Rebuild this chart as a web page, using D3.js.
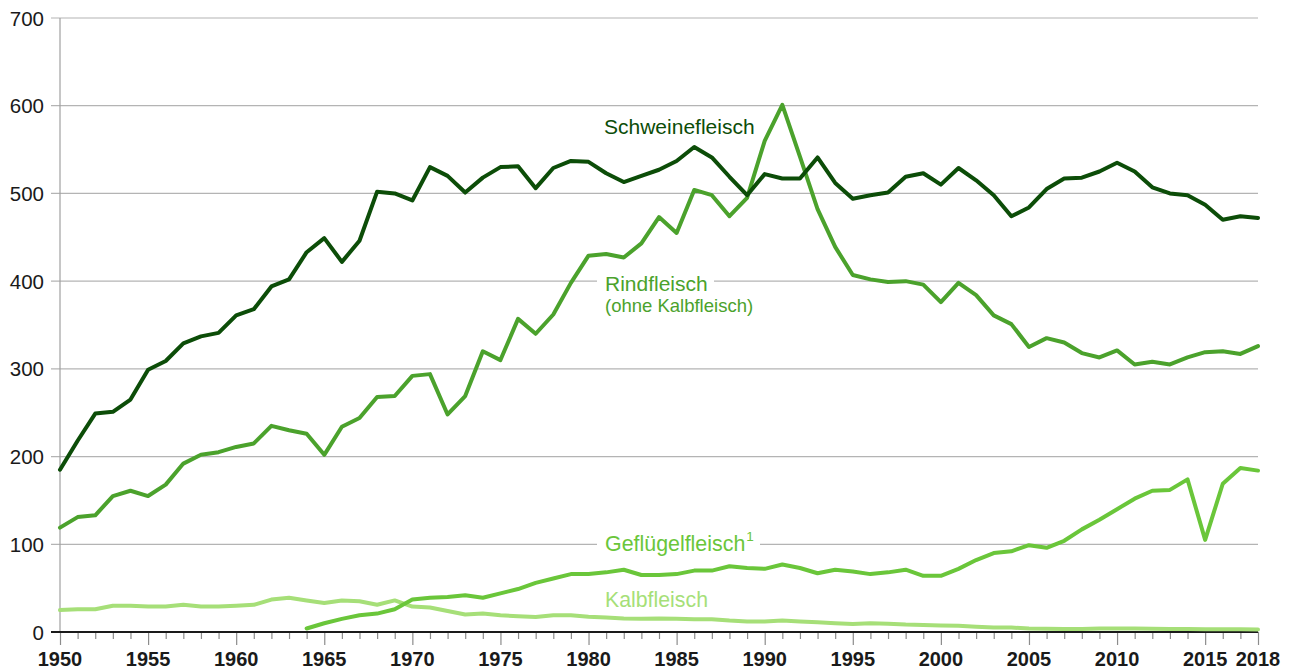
<!DOCTYPE html>
<html>
<head>
<meta charset="utf-8">
<script src="https://cdn.jsdelivr.net/npm/d3@7/dist/d3.min.js"></script>
<style>
  html, body { margin: 0; padding: 0; background: #fff; }
  svg { display: block; font-family: "Liberation Sans", Arial, Helvetica, sans-serif; }
</style>
</head>
<body>
<svg id="chart" width="1307" height="669"></svg>
<script>
// ---- data (1000 t) ----
const years = d3.range(1950, 2019);

const schwein = [
  185, 218, 249, 251, 265, 299, 309, 329, 337, 341,
  361, 368, 394, 402, 433, 449, 422, 446, 502, 500,
  492, 530, 520, 501, 518, 530, 531, 506, 529, 537,
  536, 523, 513, 520, 527, 537, 553, 541, 519, 498,
  522, 517, 517, 541, 512, 494, 498, 501, 519, 523,
  510, 529, 515, 498, 474, 484, 505, 517, 518, 525,
  535, 525, 507, 500, 498, 487, 470, 474, 472
];

const rind = [
  119, 131, 133, 155, 161, 155, 168, 192, 202, 205,
  211, 215, 235, 230, 226, 202, 234, 244, 268, 269,
  292, 294, 248, 269, 320, 310, 357, 340, 362, 398,
  429, 431, 427, 443, 473, 455, 504, 498, 474, 495,
  560, 601, 542, 482, 439, 407, 402, 399, 400, 396,
  376, 398, 384, 361, 351, 325, 335, 330, 318, 313,
  321, 305, 308, 305, 313, 319, 320, 317, 326
];

// poultry series starts in 1964
const gefluegelStart = 1964;
const gefluegel = [
  4, 10, 15, 19, 21, 26,
  37, 39, 40, 42, 39, 44, 49, 56, 61, 66,
  66, 68, 71, 65, 65, 66, 70, 70, 75, 73,
  72, 77, 73, 67, 71, 69, 66, 68, 71, 64,
  64, 72, 82, 90, 92, 99, 96, 104, 117, 128,
  140, 152, 161, 162, 174, 105, 169, 187, 184
];

const kalb = [
  25, 26, 26, 30, 30, 29, 29, 31, 29, 29,
  30, 31, 37, 39, 36, 33, 36, 35, 31, 36,
  29, 28, 24, 20, 21, 19, 18, 17, 19, 19,
  17.5, 16.5, 15.5, 15, 15.5, 15, 14.5, 14.5, 13, 12,
  12, 13, 12, 11, 10, 9, 10, 9.5, 8.5, 8,
  7.5, 7, 6, 5, 5, 4, 3.8, 3.5, 3.5, 4,
  4, 4, 3.8, 3.5, 3.5, 3.2, 3, 3, 2.8
];

const yTicks = [0, 100, 200, 300, 400, 500, 600, 700];
const xLabels = [1950, 1955, 1960, 1965, 1970, 1975, 1980, 1985, 1990, 1995, 2000, 2005, 2010, 2015, 2018];

const colors = {
  schwein: "#0c4d08",
  rind: "#4ba22c",
  gefluegel: "#6ac63a",
  kalb: "#a6df78"
};

// ---- layout ----
const svg = d3.select("#chart");
const x = d3.scaleLinear().domain([1950, 2018]).range([60, 1258]);
const y = d3.scaleLinear().domain([0, 700]).range([632, 18]);

// gridlines
svg.append("g")
  .selectAll("line")
  .data(yTicks.filter(d => d > 0))
  .join("line")
  .attr("x1", 51).attr("x2", 1258)
  .attr("y1", d => y(d)).attr("y2", d => y(d))
  .attr("stroke", "#b4b4b4").attr("stroke-width", 1.2);

// y axis line
svg.append("line")
  .attr("x1", 60).attr("x2", 60)
  .attr("y1", y(700)).attr("y2", y(0))
  .attr("stroke", "#a0a0a0").attr("stroke-width", 1.2);

// y tick labels
svg.append("g")
  .selectAll("text")
  .data(yTicks)
  .join("text")
  .attr("x", 44)
  .attr("y", d => y(d) + 7.5)
  .attr("text-anchor", "end")
  .attr("font-size", 20.5)
  .attr("fill", "#1a1a1a")
  .text(d => d);

// x axis: baseline with yearly ticks
const xAxis = d3.axisBottom(x)
  .tickValues(years)
  .tickSize(7)
  .tickFormat("");
const gx = svg.append("g")
  .attr("transform", `translate(0,${y(0)})`)
  .call(xAxis);
gx.select(".domain").remove();
gx.selectAll(".tick line")
  .attr("stroke", "#8c8c8c")
  .attr("stroke-width", 1.2)
  .attr("y2", d => (d % 5 === 0 || d === 2018) ? 13 : 7);

svg.append("line")
  .attr("x1", 51).attr("x2", 1258)
  .attr("y1", y(0)).attr("y2", y(0))
  .attr("stroke", "#1a1a1a").attr("stroke-width", 2);

svg.append("g")
  .selectAll("text")
  .data(xLabels)
  .join("text")
  .attr("x", d => x(d))
  .attr("y", 666)
  .attr("text-anchor", "middle")
  .attr("font-size", 20)
  .attr("font-weight", "bold")
  .attr("fill", "#1a1a1a")
  .text(d => d);

// label backgrounds that break the gridlines
svg.append("rect").attr("x", 597).attr("y", y(400) - 4).attr("width", 117).attr("height", 8).attr("fill", "#fff");
svg.append("rect").attr("x", 597).attr("y", y(100) - 4).attr("width", 163).attr("height", 8).attr("fill", "#fff");

// ---- lines ----
const line = d3.line()
  .x(d => x(d[0]))
  .y(d => y(d[1]));

const series = [
  { key: "kalb", pts: kalb.map((v, i) => [1950 + i, v]) },
  { key: "gefluegel", pts: gefluegel.map((v, i) => [gefluegelStart + i, v]) },
  { key: "rind", pts: rind.map((v, i) => [1950 + i, v]) },
  { key: "schwein", pts: schwein.map((v, i) => [1950 + i, v]) }
];

svg.append("g")
  .selectAll("path")
  .data(series)
  .join("path")
  .attr("d", d => line(d.pts))
  .attr("fill", "none")
  .attr("stroke", d => colors[d.key])
  .attr("stroke-width", 4)
  .attr("stroke-linejoin", "round")
  .attr("stroke-linecap", "round");

// ---- series labels ----
const labels = svg.append("g").attr("font-size", 21);
labels.append("text").attr("x", 604).attr("y", 134).attr("fill", colors.schwein).text("Schweinefleisch");
labels.append("text").attr("x", 605).attr("y", 291).attr("fill", colors.rind).text("Rindfleisch");
labels.append("text").attr("x", 605).attr("y", 312).attr("font-size", 18.5).attr("fill", colors.rind).text("(ohne Kalbfleisch)");
const gl = labels.append("text").attr("x", 605).attr("y", 551).attr("font-size", 21.4).attr("fill", colors.gefluegel);
gl.append("tspan").text("Geflügelfleisch");
gl.append("tspan").attr("dy", -10).attr("dx", 1).attr("font-size", 13.5).text("1");
labels.append("text").attr("x", 605).attr("y", 607).attr("font-size", 21.3).attr("fill", colors.kalb).text("Kalbfleisch");
</script>
</body>
</html>
